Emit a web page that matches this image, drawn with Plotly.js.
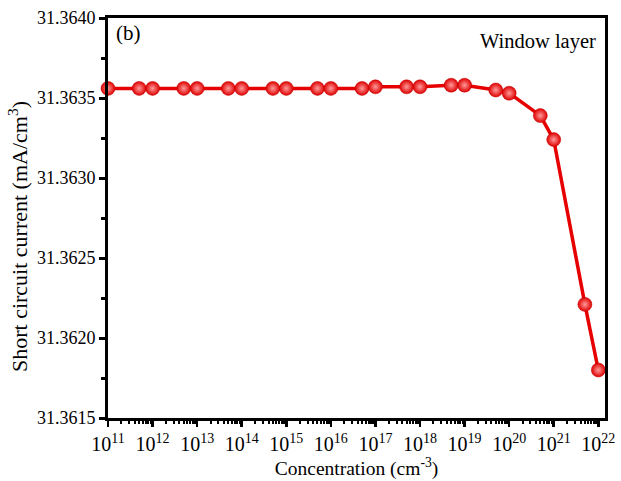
<!DOCTYPE html>
<html>
<head>
<meta charset="utf-8">
<script src="https://cdn.plot.ly/plotly-3.0.1.min.js"></script>
<style>html,body{margin:0;padding:0;background:#fff;}#chart{width:621px;height:481px;}</style>
</head>
<body>
<div id="chart"></div>
<script>
const concentration = [1e11, 5e11, 1e12, 5e12, 1e13, 5e13, 1e14, 5e14, 1e15, 5e15, 1e16, 5e16,
  1e17, 5e17, 1e18, 5e18, 1e19, 5e19, 1e20, 5e20, 1e21, 5e21, 1e22];
const jsc = [31.36356, 31.36356, 31.36356, 31.36356, 31.36356, 31.36356, 31.36356, 31.36356,
  31.36356, 31.36356, 31.36356, 31.36356, 31.36357, 31.36357, 31.36357, 31.36358, 31.36358,
  31.36355, 31.36353, 31.36339, 31.36324, 31.36221, 31.36180];
const xTickVals = [1e11, 1e12, 1e13, 1e14, 1e15, 1e16, 1e17, 1e18, 1e19, 1e20, 1e21, 1e22];
const xTickText = ['10<sup>11</sup>', '10<sup>12</sup>', '10<sup>13</sup>', '10<sup>14</sup>',
  '10<sup>15</sup>', '10<sup>16</sup>', '10<sup>17</sup>', '10<sup>18</sup>', '10<sup>19</sup>',
  '10<sup>20</sup>', '10<sup>21</sup>', '10<sup>22</sup>'];
const yTicks = [31.3615, 31.3620, 31.3625, 31.3630, 31.3635, 31.3640];
const xTitle = 'Concentration (cm<sup>-3</sup>)';
const yTitle = 'Short circuit current (mA/cm<sup>3</sup>)';
const panelLabel = '(b)';
const legendLabel = 'Window layer';

const font = 'Liberation Serif';

const trace = {
  x: concentration, y: jsc, type: 'scatter', mode: 'lines+markers',
  line: {color: '#e60000', width: 3.5},
  marker: {size: 14, color: '#e00000', line: {color: '#c00000', width: 0.5},
    gradient: {type: 'radial', color: '#ff9a9a'}},
  cliponaxis: false, hoverinfo: 'skip'
};

const layout = {
  width: 621, height: 481,
  margin: {l: 108, r: 16, t: 18, b: 63},
  paper_bgcolor: '#fff', plot_bgcolor: '#fff',
  showlegend: false,
  font: {family: font, size: 18, color: '#000'},
  xaxis: {
    type: 'log', range: [11, 22.15],
    tickmode: 'array', tickvals: xTickVals, ticktext: xTickText, tickangle: 0,
    ticks: 'outside', ticklen: 6, tickwidth: 2.5, tickcolor: '#000',
    minor: {ticks: 'outside', ticklen: 3, tickwidth: 2, tickcolor: '#000', dtick: 'D1', showgrid: false},
    showline: true, linewidth: 3, linecolor: '#000', mirror: true,
    showgrid: false, zeroline: false,
    tickfont: {family: font, size: 20, color: '#000'},
    title: {text: xTitle, font: {family: font, size: 19.5, color: '#000'}, standoff: 2}
  },
  yaxis: {
    range: [31.3615, 31.3640],
    tickmode: 'array', tickvals: yTicks, tickformat: '.4f',
    ticks: 'outside', ticklen: 6, tickwidth: 3, tickcolor: '#000',
    minor: {ticks: 'outside', ticklen: 4, tickwidth: 3, tickcolor: '#000', dtick: 0.00025, showgrid: false},
    showline: true, linewidth: 3, linecolor: '#000', mirror: true,
    showgrid: false, zeroline: false,
    tickfont: {family: font, size: 18, color: '#000'}
  },
  annotations: [
    {text: yTitle, xref: 'paper', yref: 'paper', x: -0.181, y: 0.4525, xanchor: 'center', yanchor: 'middle',
     textangle: -90, showarrow: false, font: {family: font, size: 22, color: '#000'}},
    {text: panelLabel, xref: 'paper', yref: 'paper', x: 0.012, y: 0.997, xanchor: 'left', yanchor: 'top',
     showarrow: false, font: {family: font, size: 21, color: '#000'}},
    {text: legendLabel, xref: 'paper', yref: 'paper', x: 0.985, y: 0.975, xanchor: 'right', yanchor: 'top',
     showarrow: false, font: {family: font, size: 20.5, color: '#000'}}
  ]
};

Plotly.newPlot('chart', [trace], layout, {displayModeBar: false, staticPlot: true});
</script>
</body>
</html>
